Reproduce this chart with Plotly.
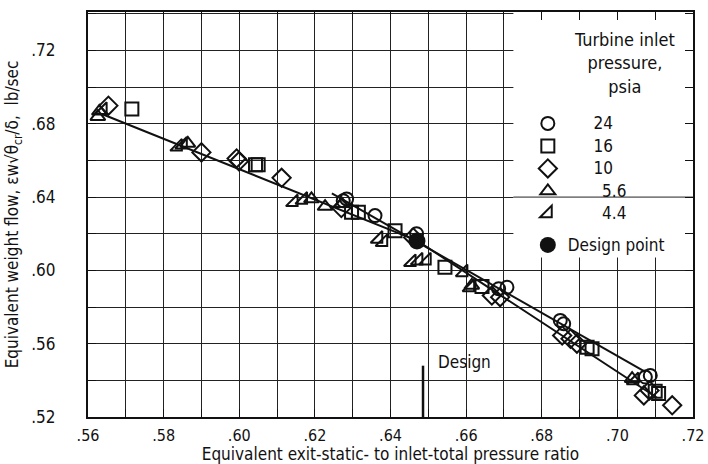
import plotly.graph_objects as go

# ---------------- data ----------------
x_ticks = [0.56, 0.58, 0.60, 0.62, 0.64, 0.66, 0.68, 0.70, 0.72]
x_ticktext = [".56", ".58", ".60", ".62", ".64", ".66", ".68", ".70", ".72"]
y_ticks = [0.52, 0.56, 0.60, 0.64, 0.68, 0.72]
y_ticktext = [".52", ".56", ".60", ".64", ".68", ".72"]

p24_x = [0.6275, 0.6284, 0.6359, 0.6469, 0.6686, 0.6708, 0.6849, 0.6858, 0.7074, 0.7087]
p24_y = [0.6380, 0.6390, 0.6299, 0.6200, 0.5900, 0.5908, 0.5727, 0.5709, 0.5418, 0.5427]

p16_x = [0.5716, 0.6043, 0.6050, 0.6297, 0.6315, 0.6412, 0.6544, 0.6642, 0.6920, 0.6933, 0.7100, 0.7109]
p16_y = [0.6881, 0.6577, 0.6577, 0.6317, 0.6317, 0.6217, 0.6017, 0.5912, 0.5581, 0.5573, 0.5340, 0.5328]

p10_x = [0.5654, 0.5900, 0.5993, 0.5999, 0.6112, 0.6270, 0.6460, 0.6668, 0.6690, 0.6854, 0.6876, 0.6893, 0.7070, 0.7085, 0.7145]
p10_y = [0.6899, 0.6644, 0.6611, 0.6595, 0.6505, 0.6340, 0.6180, 0.5863, 0.5854, 0.5645, 0.5627, 0.5600, 0.5318, 0.5345, 0.5264]

p56_x = [0.5626, 0.5630, 0.5864, 0.6191, 0.6227, 0.6271, 0.6615, 0.7039]
p56_y = [0.6839, 0.6868, 0.6693, 0.6390, 0.6348, 0.6363, 0.5918, 0.5409]

p44_x = [0.5639, 0.5838, 0.5851, 0.6144, 0.6169, 0.6368, 0.6381, 0.6456, 0.6474, 0.6496, 0.6593, 0.6611, 0.7045]
p44_y = [0.6875, 0.6675, 0.6686, 0.6372, 0.6385, 0.6172, 0.6154, 0.6045, 0.6054, 0.6054, 0.5990, 0.5908, 0.5400]

design_x = [0.6470]
design_y = [0.6160]

upper_line_x = [0.6245, 0.7075]
upper_line_y = [0.6420, 0.5445]
lower_line_x = [0.5635, 0.6470, 0.7105]
lower_line_y = [0.6855, 0.6163, 0.5305]

design_ratio = 0.6486
design_mark_y = [0.520, 0.548]

series_names = ["24", "16", "10", "5.6", "4.4"]
design_name = "Design point"

# ---------------- figure ----------------
FONT = "Liberation Sans Narrow, DejaVu Sans Condensed, Roboto Condensed, Arial Narrow, sans-serif"
INK = "#111111"
GRID = "#222222"

fig = go.Figure()

# fairing lines
for lx, ly in [(lower_line_x, lower_line_y), (upper_line_x, upper_line_y)]:
    fig.add_trace(go.Scatter(x=lx, y=ly, mode="lines", line=dict(color=INK, width=2),
                             showlegend=False, hoverinfo="skip"))

# design pressure-ratio mark
fig.add_trace(go.Scatter(x=[design_ratio, design_ratio], y=design_mark_y, mode="lines",
                         line=dict(color=INK, width=2.5), showlegend=False, hoverinfo="skip"))


def big(s):
    return '<span style="font-size:17px">' + s + '</span>'


pad = "\u00a0" * 6
pad2 = "\u00a0" * 8
legend_labels = [pad + big(series_names[0]), pad + big(series_names[1]), pad + big(series_names[2]),
                 pad2 + big(series_names[3]), pad2 + big(series_names[4])]
symbols = ["circle-open", "square-open", "diamond-open", "triangle-up-open", "triangle-se-open"]
sizes = [13, 13, 14, 13, 13]
data = [(p24_x, p24_y), (p16_x, p16_y), (p10_x, p10_y), (p56_x, p56_y), (p44_x, p44_y)]

for (sx, sy), sym, sz, lab in zip(data, symbols, sizes, legend_labels):
    fig.add_trace(go.Scatter(
        x=sx, y=sy, mode="markers", name=lab, legendgroup="a",
        marker=dict(symbol=sym, size=sz, color=INK, line=dict(color=INK, width=2)),
    ))

fig.add_trace(go.Scatter(
    x=design_x, y=design_y, mode="markers", name=big(design_name), legendgroup="b",
    marker=dict(symbol="circle", size=17, color=INK),
))

# blank legend region (grid erased there in the original)
fig.add_shape(type="rect", xref="x", yref="y", x0=0.6725, x1=0.72, y0=0.607, y1=0.742,
              fillcolor="white", line=dict(width=0), layer="between")
fig.add_shape(type="line", xref="x", yref="y", x0=0.6725, x1=0.72, y0=0.64, y1=0.64,
              line=dict(color=GRID, width=1), layer="between")

fig.add_annotation(text="Turbine inlet<br>pressure,<br>psia", xref="paper", yref="paper",
                   x=0.886, y=0.962, xanchor="center", yanchor="top", showarrow=False,
                   font=dict(family=FONT, size=18, color=INK), align="center")
fig.add_annotation(text="Design", xref="x", yref="y", x=0.6595, y=0.5498,
                   showarrow=False, font=dict(family=FONT, size=17, color=INK))

axis_common = dict(
    showline=True, linecolor=INK, linewidth=2, mirror="ticks", automargin=False,
    ticks="inside", ticklen=8, tickcolor=INK, tickwidth=1.2,
    showgrid=True, gridcolor=GRID, gridwidth=1, zeroline=False,
)

fig.update_xaxes(range=[0.56, 0.72], tickvals=x_ticks, ticktext=x_ticktext,
                 ticklabelstandoff=3, tickfont=dict(family=FONT, size=16, color=INK),
                 minor=dict(dtick=0.01, tick0=0.56, showgrid=True, gridcolor=GRID,
                            gridwidth=1, ticks="inside", ticklen=8, tickcolor=INK),
                 title=dict(text="Equivalent exit-static- to inlet-total pressure ratio",
                            font=dict(family=FONT, size=17, color=INK), standoff=5),
                 **axis_common)
fig.update_yaxes(range=[0.52, 0.741], tickvals=y_ticks, ticktext=y_ticktext,
                 ticklabelstandoff=27, tickfont=dict(family=FONT, size=17, color=INK),
                 minor=dict(dtick=0.02, tick0=0.52, showgrid=True, gridcolor=GRID,
                            gridwidth=1, ticks="inside", ticklen=8, tickcolor=INK),
                 title=dict(text="Equivalent weight flow, εw√θ<sub>cr</sub>/δ,  lb/sec",
                            font=dict(family=FONT, size=17, color=INK), standoff=8),
                 **axis_common)

fig.update_layout(
    width=708, height=464,
    margin=dict(l=88, r=15, t=12, b=47),
    paper_bgcolor="white", plot_bgcolor="white",
    font=dict(family=FONT, size=16, color=INK),
    legend=dict(x=0.727, y=0.765, xanchor="left", yanchor="top",
                bgcolor="rgba(0,0,0,0)", font=dict(family=FONT, size=15, color=INK),
                tracegroupgap=9, itemwidth=30),
    showlegend=True,
)

fig.write_html("out.html", config={"displayModeBar": False},
               post_script="document.body.style.margin='0';")
